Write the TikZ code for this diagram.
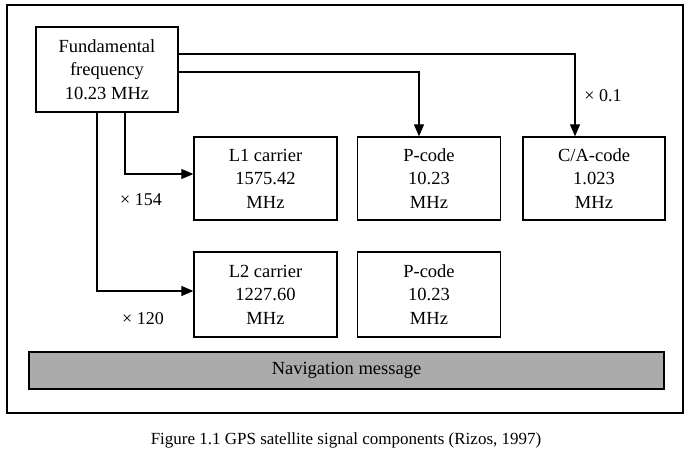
\documentclass[tikz,border=0pt]{standalone}
\usepackage{fontspec}
\setmainfont{Liberation Serif}
\usetikzlibrary{arrows.meta}

\tikzset{
  blk/.style={draw, line width=1.3pt, minimum width=143pt, minimum height=83pt,
    inner sep=2pt, align=center, font=\fontsize{18.5}{23.5}\selectfont},
  arr/.style={line width=1.2pt, -{Triangle[length=12pt,width=10pt]}},
  lbl/.style={font=\fontsize{18}{20}\selectfont}
}

\begin{document}
\begin{tikzpicture}[x=1pt,y=-1pt]
  \useasboundingbox (0,0) rectangle (690,466);

  % frame
  \draw[line width=1.3pt] (7,5) rectangle (683,413);

  % blocks
  \node[blk, minimum width=142pt, minimum height=85pt] (fund) at (107,69.5) {Fundamental\\frequency\\10.23 MHz};
  \node[blk] (lone) at (265.5,178.5) {L1 carrier\\1575.42\\MHz};
  \node[blk] (pone) at (429,178.5) {P-code\\10.23\\MHz};
  \node[blk, minimum width=142pt] (ca) at (594,178.5) {C/A-code\\1.023\\MHz};
  \node[blk, minimum height=85pt] (ltwo) at (265.5,294.5) {L2 carrier\\1227.60\\MHz};
  \node[blk, minimum height=85pt] (ptwo) at (429,294.5) {P-code\\10.23\\MHz};
  \node[blk, fill=black!33, minimum width=635pt, minimum height=37pt] (nav) at (346.5,370.5) {Navigation message};

  % connectors
  \draw[arr] ([yshift=15.5pt]fund.east) -| ([xshift=-19pt]ca.north);
  \draw[arr] ([yshift=-2.5pt]fund.east) -| ([xshift=-10pt]pone.north);
  \draw[arr] ([xshift=18pt]fund.south) |- ([yshift=4.5pt]lone.west);
  \draw[arr] ([xshift=-10pt]fund.south) |- ([yshift=3.5pt]ltwo.west);

  % factors
  \node[lbl] (fca) at (603,96) {× 0.1};
  \node[lbl] (fone) at (141,200) {× 154};
  \node[lbl] (ftwo) at (143,319) {× 120};

  % caption
  \node[font=\fontsize{17}{20}\selectfont] (cap) at (346,440) {Figure 1.1 GPS satellite signal components (Rizos, 1997)};
\end{tikzpicture}
\end{document}
